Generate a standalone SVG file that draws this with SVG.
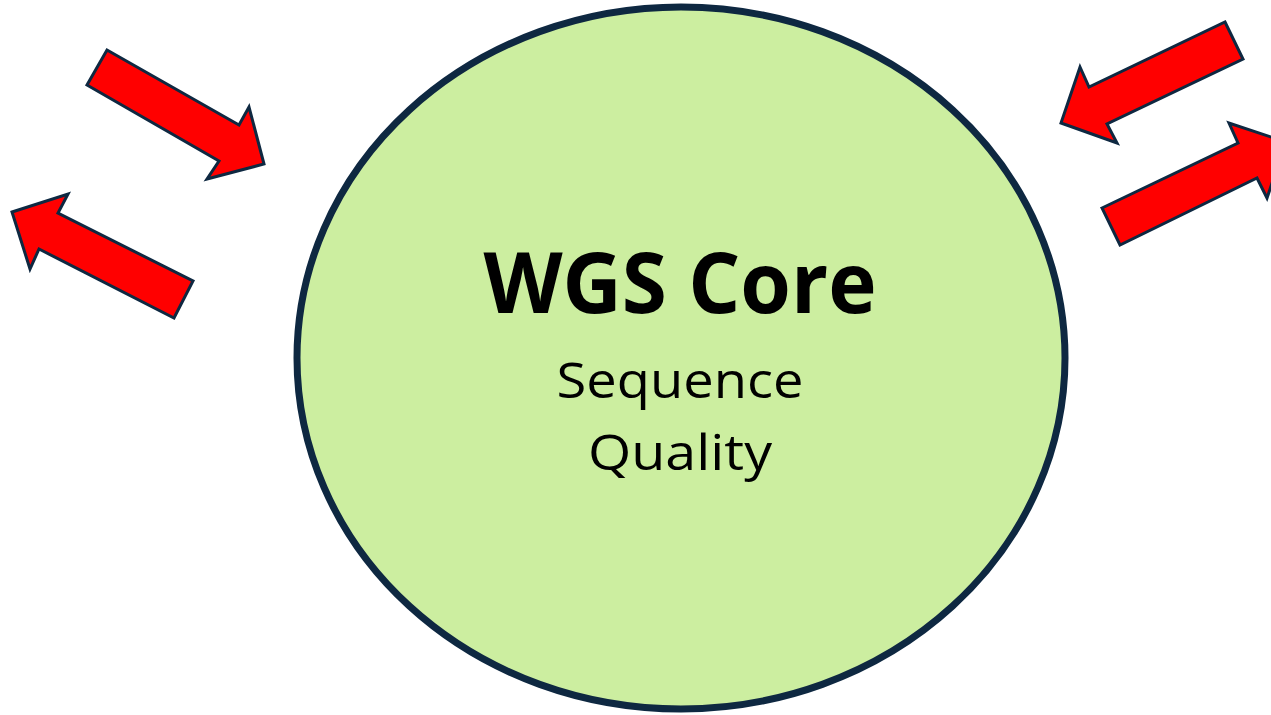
<svg xmlns="http://www.w3.org/2000/svg" width="1271" height="715" viewBox="0 0 1271 715">
<style>
.arrow{fill:#FF0000;stroke:#0E2841;stroke-width:3;stroke-linejoin:miter}
.core{fill:#CCEEA0;stroke:#0E2841;stroke-width:7}
.title{font-family:"Open Sans","Liberation Sans",sans-serif;font-weight:bold;font-size:84px;fill:#000}
.sub{font-family:"Open Sans","Liberation Sans",sans-serif;font-size:49px;fill:#000}
</style>
<rect width="1271" height="715" fill="#FFFFFF"/>
<g id="core">
<ellipse class="core" cx="681" cy="358" rx="384" ry="351"/>
<text class="title" x="680" y="313" text-anchor="middle" textLength="393" lengthAdjust="spacingAndGlyphs">WGS Core</text>
<text class="sub" x="680" y="398" text-anchor="middle" textLength="247" lengthAdjust="spacingAndGlyphs">Sequence</text>
<text class="sub" x="680" y="470" text-anchor="middle" textLength="184" lengthAdjust="spacingAndGlyphs">Quality</text>
</g>
<g id="connectors">
<polygon id="arrow-in-left" class="arrow" points="107,50 239,125 249,107 264,164 207,179 219,161 87,85"/>
<polygon id="arrow-out-left" class="arrow" points="12,212 68,194 58,213 193,281 174,318 39,249 30,269"/>
<polygon id="arrow-in-right" class="arrow" points="1225,22 1243,59 1107,124 1117,143 1061,123 1080,67 1089,87"/>
<polygon id="arrow-out-right" class="arrow" points="1102,208 1238,143 1229,123 1286,142 1267,198 1257,178 1120,245"/>
</g>
</svg>
